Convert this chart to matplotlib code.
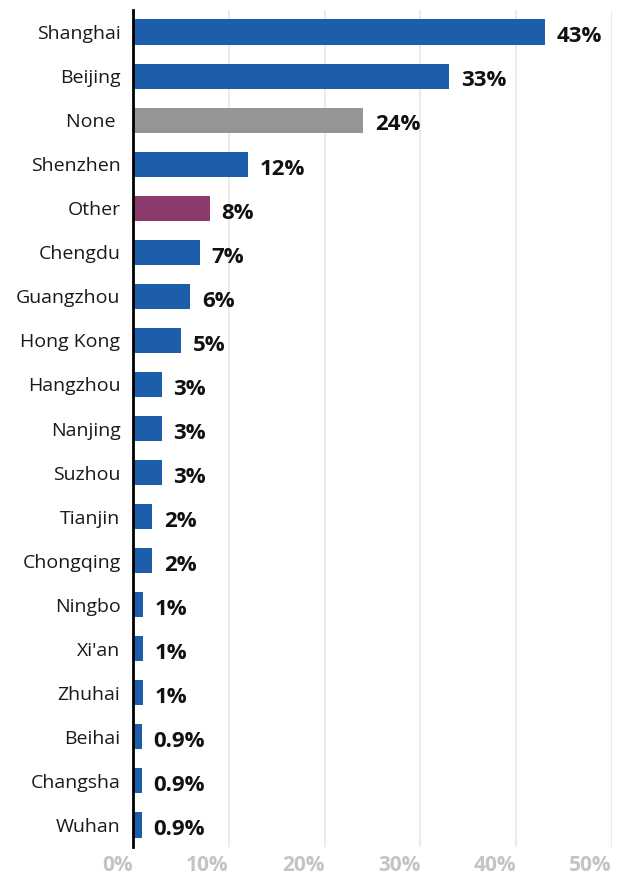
import matplotlib
matplotlib.use("Agg")
import matplotlib.pyplot as plt

cities = ["Shanghai", "Beijing", "None ", "Shenzhen", "Other", "Chengdu", "Guangzhou",
          "Hong Kong", "Hangzhou", "Nanjing", "Suzhou", "Tianjin", "Chongqing",
          "Ningbo", "Xi'an", "Zhuhai", "Beihai", "Changsha", "Wuhan"]
shares = [43, 33, 24, 12, 8, 7, 6, 5, 3, 3, 3, 2, 2, 1, 1, 1, 0.9, 0.9, 0.9]
value_labels = ["43%", "33%", "24%", "12%", "8%", "7%", "6%", "5%", "3%", "3%", "3%",
                "2%", "2%", "1%", "1%", "1%", "0.9%", "0.9%", "0.9%"]
xticks = [0, 10, 20, 30, 40, 50]
xtick_labels = ["0%", "10%", "20%", "30%", "40%", "50%"]

BLUE = "#1d5eab"
GRAY = "#959597"
PURPLE = "#8c3a6c"
colors = [GRAY if c.strip() == "None" else PURPLE if c == "Other" else BLUE for c in cities]

plt.rcParams["font.family"] = ["Open Sans", "DejaVu Sans"]

fig = plt.figure(figsize=(6.24, 8.77), dpi=100)
ax = fig.add_axes([133 / 624, 1 - 847 / 877, (612 - 133) / 624, (847 - 10) / 877])

y = list(range(len(cities)))
ax.barh(y, shares, height=0.57, color=colors, zorder=3)

for yi, v, lab in zip(y, shares, value_labels):
    ax.annotate(lab, (v, yi), xytext=(8.5, -3.5), textcoords="offset points",
                ha="left", va="center", fontsize=16, fontweight="bold", color="#111111")

ax.set_xlim(0, 50)
ax.set_ylim(len(cities) - 0.5, -0.5)
ax.set_yticks(y)
ax.set_yticklabels(cities, fontsize=14, color="#1a1a1a")
ax.set_xticks(xticks)
ax.set_xticklabels(xtick_labels, fontsize=15, fontweight="bold", color="#c4c4c8")
for t in ax.get_xticklabels():
    t.set_ha("right")

ax.tick_params(axis="y", length=0, pad=9)
ax.tick_params(axis="x", length=0, pad=6)
ax.grid(axis="x", color="#ebebeb", linewidth=1.5, zorder=0)
ax.grid(axis="y", visible=False)
for s in ["top", "right", "bottom"]:
    ax.spines[s].set_visible(False)
ax.spines["left"].set_color("black")
ax.spines["left"].set_linewidth(2)
ax.spines["left"].set_zorder(4)

fig.savefig("out.png", dpi=100)
